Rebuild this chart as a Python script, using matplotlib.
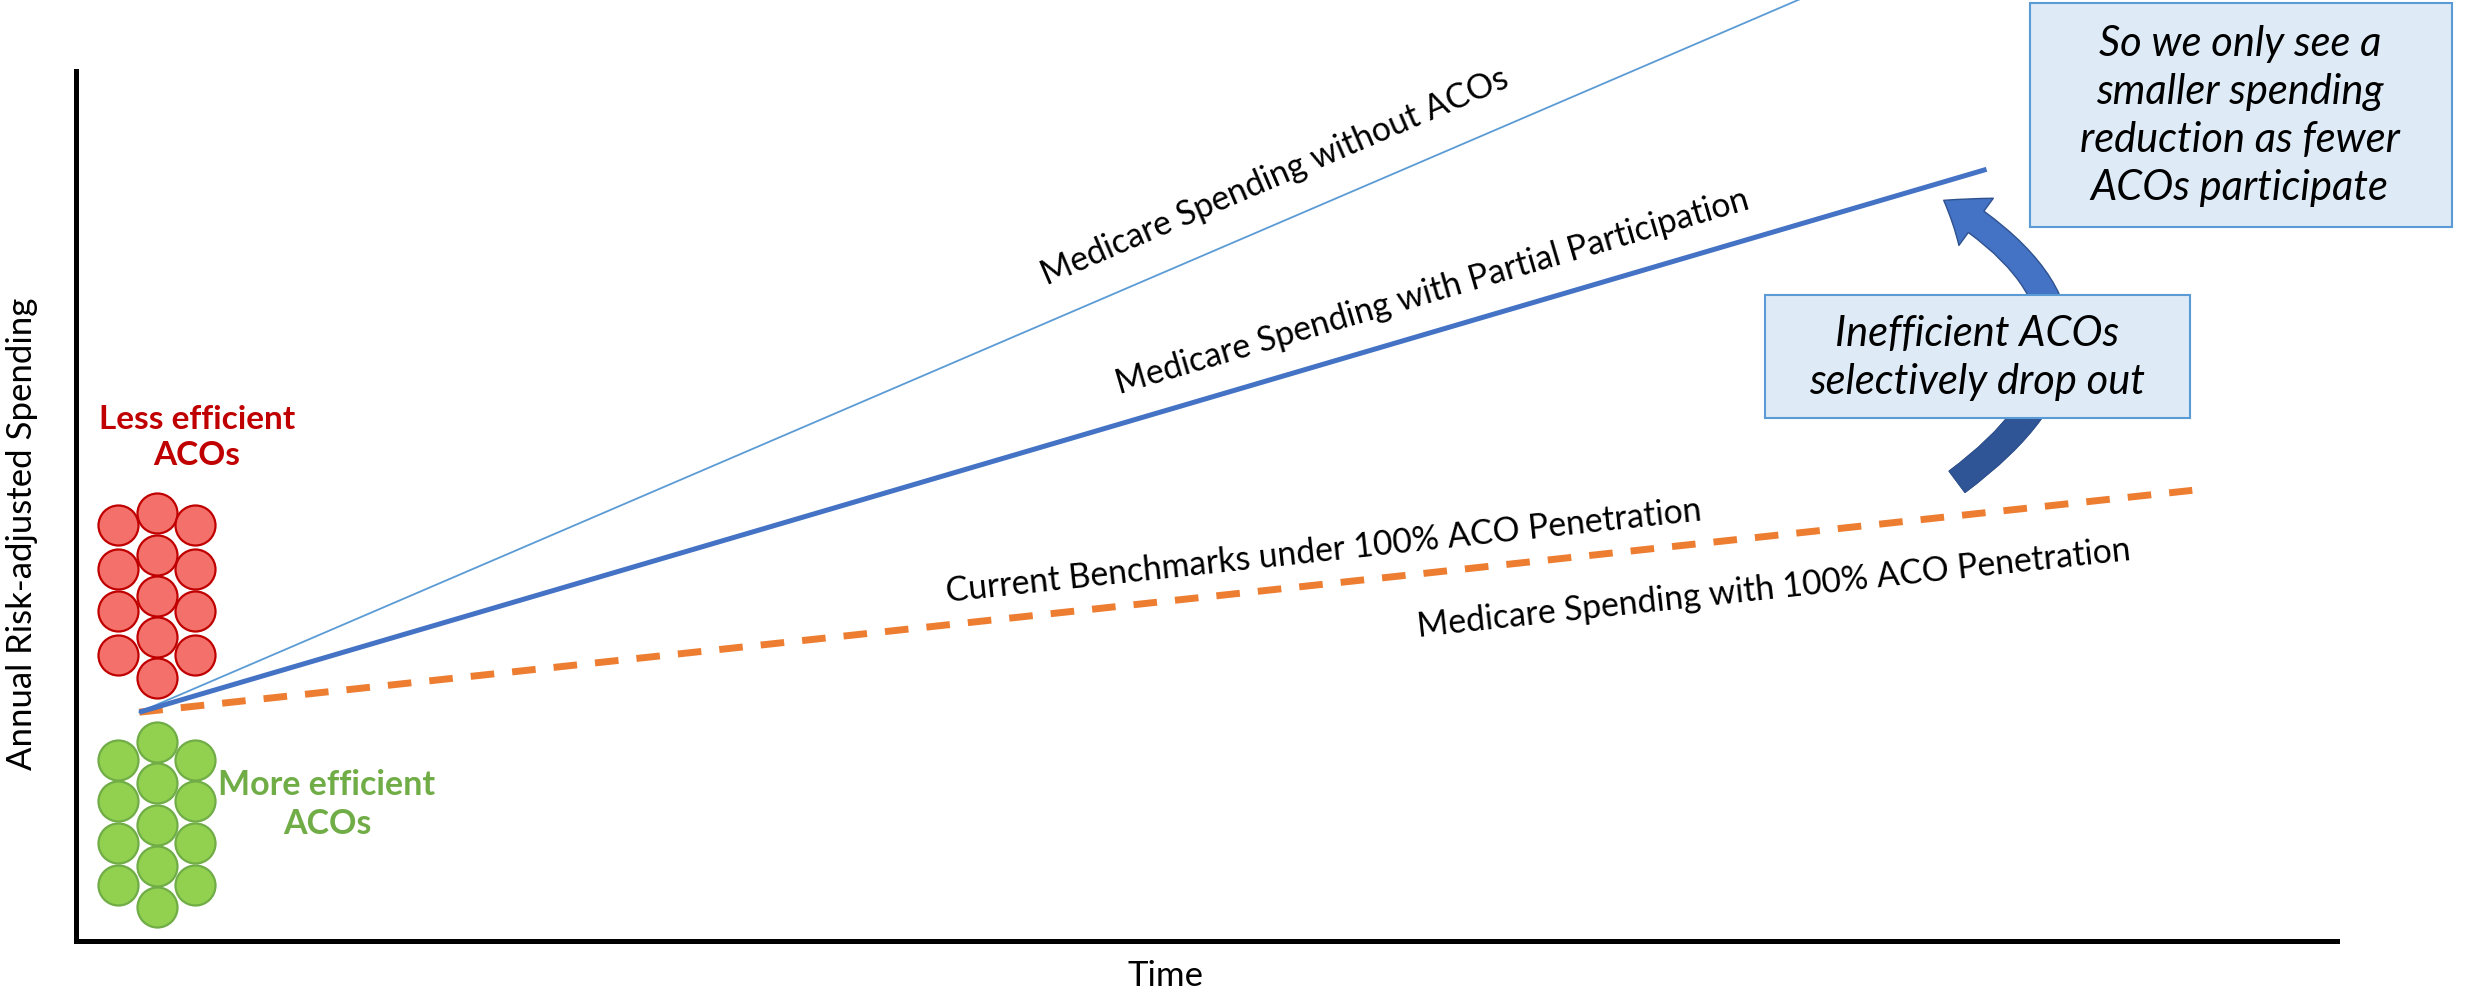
import numpy as np
import matplotlib
matplotlib.use("Agg")
from matplotlib import pyplot as plt
from matplotlib.patches import Rectangle, FancyArrowPatch

plt.rcParams['font.family'] = ['Lato', 'DejaVu Sans']

# spending paths (time 0-100, spending 0-100)
no_aco_x = [2.8, 76.2]
no_aco_y = [26.3, 108.2]
partial_x = [2.8, 84.5]
partial_y = [26.3, 88.7]
full_x = [2.8, 93.6]
full_y = [26.3, 51.8]

# ACO dots
red_x = [1.86] * 4 + [3.58] * 5 + [5.26] * 4
red_y = [47.8, 42.8, 37.9, 32.9] + [49.2, 44.4, 39.7, 34.9, 30.2] + [47.8, 42.8, 37.9, 32.9]
green_x = [1.86] * 4 + [3.58] * 5 + [5.26] * 4
green_y = [20.8, 16.1, 11.3, 6.4] + [22.9, 18.2, 13.3, 8.6, 3.9] + [20.8, 16.1, 11.3, 6.4]

line_labels = ["Medicare Spending without ACOs",
               "Medicare Spending with Partial Participation",
               "Current Benchmarks under 100% ACO Penetration",
               "Medicare Spending with 100% ACO Penetration"]

W, H = 2481, 994
fig = plt.figure(figsize=(W / 100, H / 100), dpi=100)
ax = fig.add_axes([76 / W, 1 - 941 / H, (2337 - 76) / W, (941 - 71) / H])
ax.set_xlim(0, 100)
ax.set_ylim(0, 100)
ax.set_xticks([])
ax.set_yticks([])
for s in ['top', 'right']:
    ax.spines[s].set_visible(False)
for s in ['left', 'bottom']:
    ax.spines[s].set_linewidth(3.6)
    ax.spines[s].set_color('black')

ax.plot(no_aco_x, no_aco_y, color='#5B9BD5', lw=1.3, clip_on=False, zorder=3)
ax.plot(partial_x, partial_y, color='#4472C4', lw=3.6, clip_on=False, zorder=3,
        solid_capstyle='butt')
ax.plot(full_x, full_y, color='#ED7D31', lw=5, clip_on=False, zorder=2,
        dashes=(3.4, 2.6), dash_capstyle='butt')

ax.scatter(red_x, red_y, s=830, color='#F4716B', edgecolor='#C00000', lw=1.6,
           zorder=4, clip_on=False)
ax.scatter(green_x, green_y, s=830, color='#92D050', edgecolor='#70AD47', lw=1.6,
           zorder=4, clip_on=False)

ax.text(5.35, 57.9, "Less efficient\nACOs", color='#C00000', fontsize=24,
        fontweight='bold', ha='center', va='center', linespacing=1.3)
ax.text(11.1, 15.7, "More efficient\nACOs", color='#70AD47', fontsize=24.5,
        fontweight='bold', ha='center', va='center', linespacing=1.3)


def angle(xs, ys):
    return np.degrees(np.arctan2(ys[1] - ys[0], xs[1] - xs[0]))


label_pos = [(53.0, 87.8), (60.0, 74.6), (55.2, 44.8), (75.1, 40.5)]
label_ang = [angle(no_aco_x, no_aco_y), angle(partial_x, partial_y),
             angle(full_x, full_y), angle(full_x, full_y)]
for txt, (lx, ly), a in zip(line_labels, label_pos, label_ang):
    ax.text(lx, ly, txt, fontsize=24.3, rotation=a, transform_rotates_text=True,
            rotation_mode='anchor', ha='center', va='center')

# curved arrow, lower half drawn darker
astyle = "simple,head_length=28,head_width=42,tail_width=19"
arr = FancyArrowPatch((83.1, 52.6), (82.5, 85.3), connectionstyle="arc3,rad=0.75",
                      arrowstyle=astyle, color='#4472C4', ec='#2F528F', lw=1,
                      zorder=5, clip_on=False)
ax.add_patch(arr)
low = FancyArrowPatch((83.1, 52.6), (82.5, 85.3), connectionstyle="arc3,rad=0.75",
                      arrowstyle=astyle, color='#2F5597', ec='#2F528F', lw=1,
                      zorder=5)
ax.add_patch(low)
clip = Rectangle((60, 40), 40, 20.1, transform=ax.transData)
low.set_clip_path(clip)

# callout boxes
ax.add_patch(Rectangle((86.4, 82.1), 105.1 - 86.4, 107.8 - 82.1, fc='#DEEBF7',
                       ec='#5B9BD5', lw=1.5, zorder=6, clip_on=False))
ax.text(95.7, 94.8, "So we only see a\nsmaller spending\nreduction as fewer\nACOs participate",
        fontsize=30, style='italic', ha='center', va='center', linespacing=1.32, zorder=7)
ax.add_patch(Rectangle((74.7, 60.1), 93.5 - 74.7, 74.3 - 60.1, fc='#DEEBF7',
                       ec='#5B9BD5', lw=1.5, zorder=6, clip_on=False))
ax.text(84.1, 67.0, "Inefficient ACOs\nselectively drop out",
        fontsize=30, style='italic', ha='center', va='center', linespacing=1.32, zorder=7)

fig.text(22 / W, 1 - 534 / H, "Annual Risk-adjusted Spending", rotation=90,
         fontsize=25, ha='center', va='center')
fig.text(1166 / W, 1 - 976 / H, "Time", fontsize=25, ha='center', va='center')

fig.savefig("out.png", dpi=100)
